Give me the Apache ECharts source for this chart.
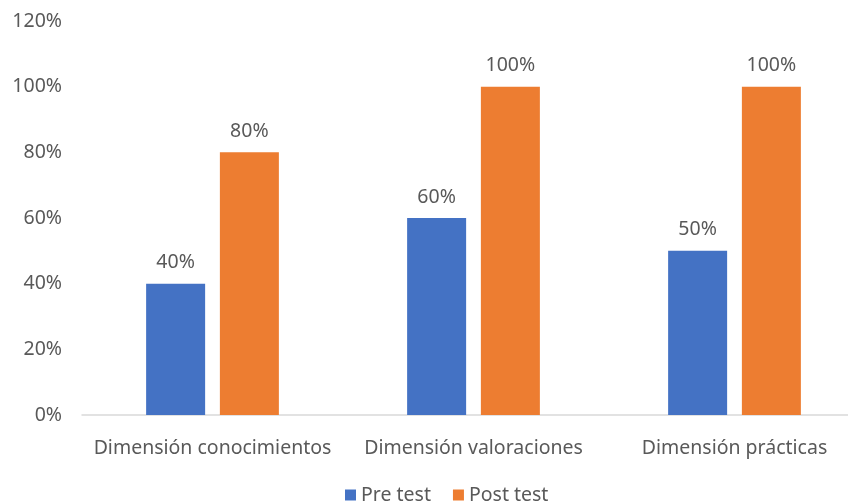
<!DOCTYPE html>
<html>
<head>
<meta charset="utf-8">
<script src="https://cdn.jsdelivr.net/npm/echarts@6/dist/echarts.min.js"></script>
<style>
html,body{margin:0;padding:0;background:#fff;}
#chart{width:848px;height:504px;}
</style>
</head>
<body>
<div id="chart"></div>
<script>
const categories = ['Dimensión conocimientos', 'Dimensión valoraciones', 'Dimensión prácticas'];
const preTest = [40, 60, 50];
const postTest = [80, 100, 100];
const yTicks = [0, 20, 40, 60, 80, 100, 120];

const FONT = '"Noto Sans", "Open Sans", sans-serif';
const TEXT = '#595959';

const chart = echarts.init(document.getElementById('chart'), null, { renderer: 'canvas' });
chart.setOption({
  animation: false,
  textStyle: { fontFamily: FONT },
  // plot area runs slightly past the right edge of the canvas
  grid: { left: 82, width: 783, top: 21, height: 394, containLabel: false, outerBoundsMode: 'none' },
  legend: {
    data: ['Pre test', 'Post test'],
    top: 480,
    left: 340,
    itemWidth: 11,
    itemHeight: 11,
    itemGap: 22,
    icon: 'rect',
    textStyle: { color: TEXT, fontSize: 19.5, fontFamily: FONT }
  },
  xAxis: {
    type: 'category',
    data: categories,
    axisLine: { lineStyle: { color: '#D9D9D9', width: 1.5 } },
    axisTick: { show: false },
    axisLabel: { color: TEXT, fontSize: 19.5, margin: 23, interval: 0, hideOverlap: false, fontFamily: FONT }
  },
  yAxis: {
    type: 'value',
    min: yTicks[0],
    max: yTicks[yTicks.length - 1],
    interval: 20,
    splitLine: { show: false },
    axisLine: { show: false },
    axisTick: { show: false },
    axisLabel: { color: TEXT, fontSize: 19.5, margin: 20, formatter: v => v + '%', fontFamily: FONT }
  },
  series: [
    {
      name: 'Pre test',
      type: 'bar',
      data: preTest,
      barWidth: 59,
      barGap: '25%',
      itemStyle: { color: '#4472C4' },
      label: { show: true, position: 'top', distance: 11, color: TEXT, fontSize: 19.5, formatter: p => p.value + '%' }
    },
    {
      name: 'Post test',
      type: 'bar',
      data: postTest,
      barWidth: 59,
      itemStyle: { color: '#ED7D31' },
      label: { show: true, position: 'top', distance: 11, color: TEXT, fontSize: 19.5, formatter: p => p.value + '%' }
    }
  ]
});
</script>
</body>
</html>
